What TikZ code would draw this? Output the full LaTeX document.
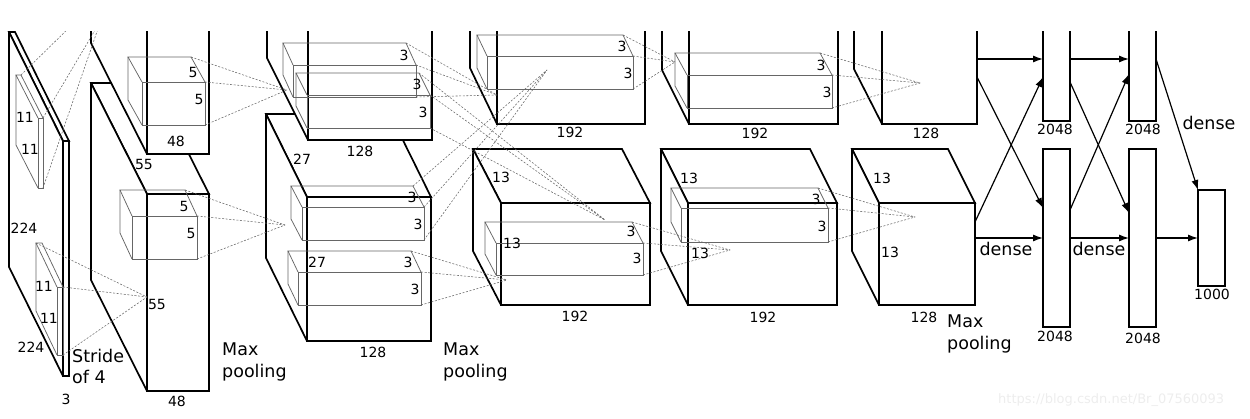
\documentclass[tikz,border=0pt]{standalone}
\usepackage{fontspec}
\setmainfont{DejaVu Sans}
\usetikzlibrary{arrows.meta}

% big layer box: front face x1,y1,x2,y2 ; depth dx,dy (towards upper left)
\newcommand{\cubeF}[6]{%
  \filldraw[boxline] (#1,#2) -- (#1-#5,#2-#6) -- (#3-#5,#2-#6) -- (#3,#2) -- cycle;
  \filldraw[boxline] (#1,#2) -- (#1-#5,#2-#6) -- (#1-#5,#4-#6) -- (#1,#4) -- cycle;
  \filldraw[boxline] (#1,#2) rectangle (#3,#4);
}
% kernel wireframe: front face x1,y1,x2,y2 ; depth dx,dy ; name
\newcommand{\cubeK}[7]{%
  \draw[kline] (#1,#2) -- (#1-#5,#2-#6) -- (#3-#5,#2-#6) -- (#3,#2);
  \draw[kline] (#1-#5,#2-#6) -- (#1-#5,#4-#6) -- (#1,#4);
  \draw[kline] (#1,#2) rectangle (#3,#4);
  \coordinate (#7-btl) at (#1-#5,#2-#6);
  \coordinate (#7-btr) at (#3-#5,#2-#6);
  \coordinate (#7-ftr) at (#3,#2);
  \coordinate (#7-fbr) at (#3,#4);
}

\begin{document}
\begin{tikzpicture}[x=1pt,y=-1pt,
  boxline/.style={draw=black, fill=white, line width=1.7pt, line join=miter, miter limit=3},
  kline/.style={draw=black!60, line width=0.75pt},
  dline/.style={draw=black!60, line width=0.55pt, dash pattern=on 2pt off 1.6pt},
  arr/.style={-{Latex[length=10pt,width=7pt]}, line width=1.2pt},
  fcbox/.style={draw=black, fill=white, line width=1.7pt, inner sep=0pt, outer sep=0pt},
  num/.style={font=\fontsize{14}{16}\selectfont, inner sep=0pt},
  word/.style={font=\fontsize{17.5}{21}\selectfont, inner sep=0pt, anchor=base west},
]
\useasboundingbox (0,0) rectangle (1250,418);

\begin{scope}
\clip (0,31) rectangle (1250,418);

% ---------- layer boxes ----------
\cubeF{63}{141}{69}{376}{54}{109}      % input
\cubeF{147}{194}{209}{391}{56}{111}    % conv1 bottom
\cubeF{147}{-43}{209}{154}{56}{111}    % conv1 top
\cubeF{307}{197}{431}{341}{41}{83}     % conv2 bottom
\cubeF{308}{-4}{432}{140}{41}{82}      % conv2 top
\cubeF{501}{203}{650}{305}{28}{54}     % conv3 bottom
\cubeF{497}{22}{645}{124}{27}{56}      % conv3 top
\cubeF{688}{203}{837}{305}{27}{54}     % conv4 bottom
\cubeF{689}{22}{838}{124}{27}{54}      % conv4 top
\cubeF{879}{203}{975}{305}{27}{54}     % conv5 bottom
\cubeF{882}{22}{977}{124}{28}{55}      % conv5 top

% ---------- dense layers ----------
\node[fcbox, minimum width=27pt, minimum height=101pt] (fc6t) at (1056.5,70.5) {};
\node[fcbox, minimum width=27pt, minimum height=178pt] (fc6b) at (1056.5,238) {};
\node[fcbox, minimum width=27pt, minimum height=101pt] (fc7t) at (1142.5,70.5) {};
\node[fcbox, minimum width=27pt, minimum height=178pt] (fc7b) at (1142.5,238) {};
\node[fcbox, minimum width=27pt, minimum height=96pt]  (out)  at (1211.5,238) {};

% ---------- kernels ----------
\cubeK{38}{118}{43}{188}{22}{43}{In1}
\cubeK{57}{287}{63}{355}{21}{44}{In2}
\cubeK{142}{82}{205}{125}{14}{25}{K1t}
\cubeK{132}{216}{197}{259}{12}{26}{K1b}
\cubeK{293}{65}{416}{97}{10}{22}{KA}
\cubeK{307}{95}{430}{128}{11}{22}{KB}
\cubeK{302}{207}{424}{240}{11}{21}{KC}
\cubeK{298}{272}{421}{305}{10}{21}{KD}
\cubeK{487}{56}{633}{89}{10}{21}{K3t}
\cubeK{496}{243}{643}{275}{11}{21}{K3b}
\cubeK{687}{75}{832}{108}{12}{22}{K4t}
\cubeK{681}{208}{828}{242}{10}{20}{K4b}

% ---------- convergence points ----------
\coordinate (pIn1a) at (77,20);
\coordinate (pIn1) at (101,20);
\coordinate (p1b) at (147,297);
\coordinate (p2t) at (287,90);
\coordinate (p2b) at (285,225);
\coordinate (p3t) at (497,95);
\coordinate (p3x) at (605,220);
\coordinate (p3y) at (547,70);
\coordinate (p3b) at (507,280);
\coordinate (p4t) at (675,62);
\coordinate (p4b) at (730,250);
\coordinate (p5t) at (920,83);
\coordinate (p5b) at (915,217);

% ---------- dashed receptive-field lines ----------
\draw[dline] (In1-btr) -- (pIn1a);
\draw[dline] (In1-ftr) -- (pIn1);
\draw[dline] (In1-fbr) -- (pIn1);
\foreach \k/\p in {K1t/p2t, K1b/p2b, KA/p3t, KB/p3x, KC/p3y, KD/p3b,
                   K3t/p4t, K3b/p4b, K4t/p5t, K4b/p5b}{
  \draw[dline] (\k-btr) -- (\p);
  \draw[dline] (\k-ftr) -- (\p);
  \draw[dline] (\k-fbr) -- (\p);
}
\draw[dline] (In2-btl) -- (p1b);
\draw[dline] (In2-ftr) -- (p1b);
\draw[dline] (In2-fbr) -- (p1b);

% ---------- dense connections ----------
\coordinate (c5ta) at (977,59);
\coordinate (c5tb) at (977,77);
\coordinate (c5ba) at (975,222);
\coordinate (c5bb) at (975,238);
\coordinate (f6ta) at (1070,59);
\coordinate (f6tb) at (1070,82);
\coordinate (f6ba) at (1070,210);
\coordinate (f6bb) at (1070,238);
\coordinate (f7ta) at (1156,59);
\coordinate (f7bb) at (1156,238);
\draw[arr] (c5ta) -- (fc6t.west |- c5ta);
\draw[arr] (c5tb) -- (1043,208);
\draw[arr] (c5ba) -- (1043,77);
\draw[arr] (c5bb) -- (fc6b.west |- c5bb);
\draw[arr] (f6ta) -- (fc7t.west |- f6ta);
\draw[arr] (f6tb) -- (1129,213);
\draw[arr] (f6ba) -- (1129,74);
\draw[arr] (f6bb) -- (fc7b.west |- f6bb);
\draw[arr] (f7ta) -- (out.north west);
\draw[arr] (f7bb) -- (out.west |- f7bb);
\end{scope}

% ---------- labels ----------
\node[num] (l11a) at (25,117) {11};
\node[num] (l11b) at (30,149) {11};
\node[num] (l11c) at (44,286) {11};
\node[num] (l11d) at (49,318) {11};
\node[num] (l224a) at (24,228) {224};
\node[num] (l224b) at (31,347) {224};
\node[num] (l3in) at (66,399) {3};
\node[word] (stride) at (72,362) {Stride};
\node[word] (of4) at (72,383) {of 4};

\node[num] (l48a) at (176,141) {48};
\node[num] (l48b) at (177,401) {48};
\node[num] (l55a) at (144,164) {55};
\node[num] (l55b) at (157,304) {55};
\node[num] (l5a) at (193,72) {5};
\node[num] (l5b) at (199,99) {5};
\node[num] (l5c) at (184,206) {5};
\node[num] (l5d) at (191,233) {5};
\node[word] (mp1a) at (222,355) {Max};
\node[word] (mp1b) at (222,377) {pooling};

\node[num] (l3a) at (404,55) {3};
\node[num] (l3b) at (417,84) {3};
\node[num] (l3c) at (423,112) {3};
\node[num] (l3d) at (412,197) {3};
\node[num] (l3e) at (418,224) {3};
\node[num] (l3f) at (408,262) {3};
\node[num] (l3g) at (415,289) {3};
\node[num] (l27a) at (302,159) {27};
\node[num] (l27b) at (317,262) {27};
\node[num] (l128a) at (360,151) {128};
\node[num] (l128b) at (373,352) {128};
\node[word] (mp2a) at (443,355) {Max};
\node[word] (mp2b) at (443,377) {pooling};

\node[num] (l3h) at (622,46) {3};
\node[num] (l3i) at (628,73) {3};
\node[num] (l3j) at (631,231) {3};
\node[num] (l3k) at (637,258) {3};
\node[num] (l192a) at (570,132) {192};
\node[num] (l192b) at (575,316) {192};
\node[num] (l13a) at (501,177) {13};
\node[num] (l13b) at (512,243) {13};

\node[num] (l3l) at (821,65) {3};
\node[num] (l3m) at (827,92) {3};
\node[num] (l3n) at (816,199) {3};
\node[num] (l3o) at (822,226) {3};
\node[num] (l192c) at (755,133) {192};
\node[num] (l192d) at (763,317) {192};
\node[num] (l13c) at (689,178) {13};
\node[num] (l13d) at (700,253) {13};

\node[num] (l128c) at (926,133) {128};
\node[num] (l128d) at (924,317) {128};
\node[num] (l13e) at (882,178) {13};
\node[num] (l13f) at (890,252) {13};
\node[word] (mp3a) at (947,327) {Max};
\node[word] (mp3b) at (947,349) {pooling};

\node[num] (l2048a) at (1055,129) {2048};
\node[num] (l2048b) at (1143,129) {2048};
\node[num] (l2048c) at (1055,336) {2048};
\node[num] (l2048d) at (1143,338) {2048};
\node[num] (l1000) at (1212,294) {1000};
\node[num, font=\fontsize{17.5}{21}\selectfont] (d1) at (1209,123) {dense};
\node[num, font=\fontsize{17.5}{21}\selectfont] (d2) at (1006,249) {dense};
\node[num, font=\fontsize{17.5}{21}\selectfont] (d3) at (1099,249) {dense};

\node[font=\fontsize{13}{15}\selectfont, text=black!7, inner sep=0pt, anchor=base west] (wm) at (998,403) {https://blog.csdn.net/Br\_07560093};
\end{tikzpicture}
\end{document}
